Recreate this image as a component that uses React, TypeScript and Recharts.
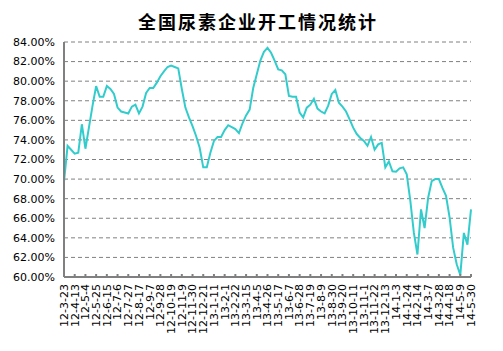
import React from 'react';
import { LineChart, Line, XAxis, YAxis, CartesianGrid } from 'recharts';

// weekly dates, 2012-03-23 .. 2014-05-30
const dates = [
  '12-3-23', '12-3-30', '12-4-6', '12-4-13', '12-4-20', '12-4-27', '12-5-4', '12-5-11', '12-5-18', '12-5-25',
  '12-6-1', '12-6-8', '12-6-15', '12-6-22', '12-6-29', '12-7-6', '12-7-13', '12-7-20', '12-7-27', '12-8-3',
  '12-8-10', '12-8-17', '12-8-24', '12-8-31', '12-9-7', '12-9-14', '12-9-21', '12-9-28', '12-10-5', '12-10-12',
  '12-10-19', '12-10-26', '12-11-2', '12-11-9', '12-11-16', '12-11-23', '12-11-30', '12-12-7', '12-12-14', '12-12-21',
  '12-12-28', '13-1-4', '13-1-11', '13-1-18', '13-1-25', '13-2-1', '13-2-8', '13-2-15', '13-2-22', '13-3-1',
  '13-3-8', '13-3-15', '13-3-22', '13-3-29', '13-4-5', '13-4-12', '13-4-19', '13-4-26', '13-5-3', '13-5-10',
  '13-5-17', '13-5-24', '13-5-31', '13-6-7', '13-6-14', '13-6-21', '13-6-28', '13-7-5', '13-7-12', '13-7-19',
  '13-7-26', '13-8-2', '13-8-9', '13-8-16', '13-8-23', '13-8-30', '13-9-6', '13-9-13', '13-9-20', '13-9-27',
  '13-10-4', '13-10-11', '13-10-18', '13-10-25', '13-11-1', '13-11-8', '13-11-15', '13-11-22', '13-11-29', '13-12-6',
  '13-12-13', '13-12-20', '13-12-27', '14-1-3', '14-1-10', '14-1-17', '14-1-24', '14-1-31', '14-2-7', '14-2-14',
  '14-2-21', '14-2-28', '14-3-7', '14-3-14', '14-3-21', '14-3-28', '14-4-4', '14-4-11', '14-4-18', '14-4-25',
  '14-5-2', '14-5-9', '14-5-16', '14-5-23', '14-5-30',
];

// operating rate, %
const rates = [
  69.7, 73.4, 73.0, 72.6, 72.7, 75.6, 73.1, 75.3, 77.5, 79.5,
  78.4, 78.4, 79.5, 79.2, 78.7, 77.3, 76.9, 76.8, 76.7, 77.4,
  77.6, 76.7, 77.4, 78.8, 79.3, 79.3, 79.85, 80.5, 81.0, 81.45,
  81.6, 81.45, 81.3, 79.2, 77.3, 76.3, 75.4, 74.4, 73.2, 71.2,
  71.2, 72.7, 73.9, 74.3, 74.3, 75.0, 75.5, 75.3, 75.1, 74.7,
  75.7, 76.5, 77.1, 79.3, 80.7, 82.1, 83.0, 83.4, 82.9, 82.1,
  81.2, 81.1, 80.7, 78.5, 78.4, 78.4, 76.8, 76.3, 77.3, 77.6,
  78.2, 77.2, 76.9, 76.7, 77.5, 78.7, 79.1, 77.8, 77.4, 76.9,
  76.1, 75.25, 74.6, 74.2, 73.9, 73.4, 74.3, 73.0, 73.55, 73.7,
  71.2, 71.8, 70.8, 70.75, 71.1, 71.2, 70.5, 67.8, 64.5, 62.3,
  66.9, 65.0, 68.1, 69.8, 70.0, 70.0, 69.1, 68.3, 66.1, 63.0,
  61.3, 60.2, 64.5, 63.3, 66.9,
];

const yTicks = [60, 62, 64, 66, 68, 70, 72, 74, 76, 78, 80, 82, 84];

const title = '全国尿素企业开工情况统计';

const data = dates.map((d, i) => ({ date: d, rate: rates[i] }));

const font = '"DejaVu Sans", sans-serif';
const axisGray = '#808080';

const DateTick = (props: any) => {
  const { x, y, payload } = props;
  return (
    <text
      x={x}
      y={y}
      transform={`rotate(-90, ${x}, ${y})`}
      textAnchor="end"
      dy="0.35em"
      fontSize={11}
      fontFamily={font}
      fill="#000"
    >
      {payload.value}
    </text>
  );
};

const App: React.FC = () => {
  return (
    <div style={{ position: 'absolute', left: 0, top: 0, width: 503, height: 351, background: '#fff' }}>
      <div
        style={{
          position: 'absolute',
          left: 0,
          top: 10,
          width: 516,
          textAlign: 'center',
          fontFamily: '"Noto Sans CJK SC", sans-serif',
          fontWeight: 'bold',
          fontSize: 18,
          letterSpacing: 2,
          lineHeight: '22px',
          color: '#000',
        }}
      >
        {title}
      </div>
      <LineChart width={503} height={351} data={data} margin={{ top: 42, right: 32, left: 0, bottom: 0 }}>
        <CartesianGrid vertical={false} stroke={axisGray} strokeDasharray="4 3" />
        <XAxis
          dataKey="date"
          interval={2}
          height={74}
          axisLine={{ stroke: axisGray, strokeWidth: 2 }}
          tickLine={{ stroke: axisGray, strokeWidth: 2 }}
          tickSize={-3}
          tickMargin={10}
          tick={<DateTick />}
        />
        <YAxis
          width={64}
          domain={[60, 84]}
          ticks={yTicks}
          interval={0}
          allowDataOverflow
          axisLine={{ stroke: axisGray, strokeWidth: 2 }}
          tickLine={false}
          tickSize={0}
          tickMargin={9}
          tickFormatter={(v: number) => v.toFixed(2) + '%'}
          tick={{ fontSize: 11, fontFamily: font, fill: '#000' }}
        />
        <Line
          type="linear"
          dataKey="rate"
          stroke="#33CCCC"
          strokeWidth={2}
          dot={false}
          isAnimationActive={false}
        />
      </LineChart>
    </div>
  );
};

export default App;
